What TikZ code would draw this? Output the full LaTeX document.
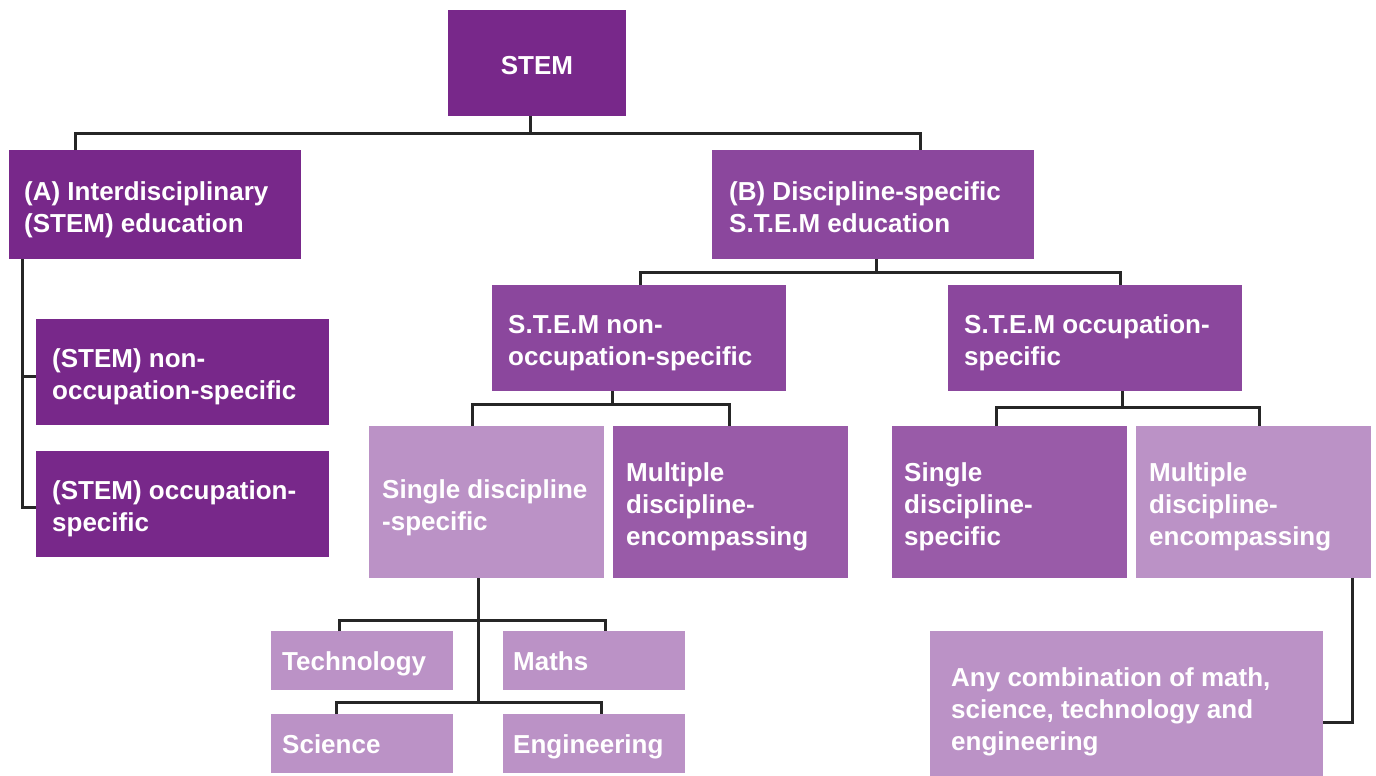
\documentclass[tikz,border=0pt]{standalone}
\usepackage{fontspec}
\setmainfont{Liberation Sans}
\definecolor{cdark}{HTML}{78288A}
\definecolor{cb}{HTML}{8B479D}
\definecolor{cmid}{HTML}{995BA8}
\definecolor{clight}{HTML}{BB92C6}
\definecolor{cline}{HTML}{262626}
\tikzset{
  box/.style={rectangle, draw=none, inner sep=0pt, outer sep=0pt},
  txt/.style={text=white, font=\bfseries\fontsize{26}{32}\selectfont, align=left, inner sep=0pt},
  conn/.style={draw=cline, line width=3pt}
}
% name, x1, y1, x2, y2, colour, pad, yshift, text
\newcommand\bx[9]{%
  \node[box, fill=#6, minimum width={#4-#2}, minimum height={#5-#3}, anchor=north west] (#1) at (#2,#3) {};
  \node[txt, anchor=west] (#1-t) at ([xshift=#7, yshift=-#8]#1.west) {\strut#9\strut};
}
\begin{document}
\begin{tikzpicture}[x=1pt, y=-1pt]
\useasboundingbox (0,0) rectangle (1376,776);
\fill[white] (0,0) rectangle (1376,776);

\node[box, fill=cdark, minimum width=178, minimum height=106, anchor=north west] (stem) at (448,10) {};
\node[txt, yshift=-5.5pt] (stem-t) at (stem.center) {\strut STEM};

\bx{A}{9}{150}{301}{259}{cdark}{15}{6}{(A) Interdisciplinary\\(STEM) education}
\bx{Anon}{36}{319}{329}{425}{cdark}{16}{5.5}{(STEM) non-\\occupation-specific}
\bx{Aocc}{36}{451}{329}{557}{cdark}{16}{5.5}{(STEM) occupation-\\specific}

\bx{B}{712}{150}{1034}{259}{cb}{17}{6}{(B) Discipline-specific\\S.T.E.M education}
\bx{Bnon}{492}{285}{786}{391}{cb}{16}{5.5}{S.T.E.M non-\\occupation-specific}
\bx{Bocc}{948}{285}{1242}{391}{cb}{16}{5.5}{S.T.E.M occupation-\\specific}

\bx{single1}{369}{426}{604}{578}{clight}{13}{6}{Single discipline\\-specific}
\bx{multi1}{613}{426}{848}{578}{cmid}{13}{5}{Multiple\\discipline-\\encompassing}
\bx{single2}{892}{426}{1127}{578}{cmid}{12}{5}{Single\\discipline-\\specific}
\bx{multi2}{1136}{426}{1371}{578}{clight}{13}{5}{Multiple\\discipline-\\encompassing}

\bx{tech}{271}{631}{453}{690}{clight}{11}{4}{Technology}
\bx{maths}{503}{631}{685}{690}{clight}{10}{4}{Maths}
\bx{sci}{271}{714}{453}{773}{clight}{11}{4}{Science}
\bx{eng}{503}{714}{685}{773}{clight}{10}{4}{Engineering}

\bx{any}{930}{631}{1323}{776}{clight}{21}{9}{Any combination of math,\\science, technology and\\engineering}

% connectors
\coordinate (j0) at (530,133);
\draw[conn] ([xshift=-7]stem.south) -- (j0);
\draw[conn] ([xshift=66]A.north west) |- (j0) -| ([xshift=208]B.north west);

\draw[conn] ([xshift=13]A.south west) |- ([yshift=-4]Anon.west);
\draw[conn] ([xshift=13]A.south west) |- ([yshift=-3]Aocc.west);

\coordinate (j1) at (876,272);
\draw[conn] (B.south -| j1) -- (j1);
\draw[conn] ([xshift=148]Bnon.north west) |- (j1) -| ([xshift=172]Bocc.north west);

\coordinate (j2) at (612,404);
\draw[conn] (Bnon.south -| j2) -- (j2);
\draw[conn] ([xshift=103]single1.north west) |- (j2) -| ([xshift=116]multi1.north west);

\coordinate (j3) at (1122,407);
\draw[conn] (Bocc.south -| j3) -- (j3);
\draw[conn] ([xshift=104]single2.north west) |- (j3) -| ([xshift=123]multi2.north west);

\coordinate (j4) at (478,620);
\coordinate (j5) at (478,702);
\draw[conn] (single1.south -| j4) -- (j5);
\draw[conn] ([xshift=68]tech.north west) |- (j4) -| ([xshift=102]maths.north west);
\draw[conn] ([xshift=65]sci.north west) |- (j5) -| ([xshift=98]eng.north west);

\draw[conn] ([xshift=-19]multi2.south east) |- ([yshift=-18.5]any.east);
\end{tikzpicture}
\end{document}
